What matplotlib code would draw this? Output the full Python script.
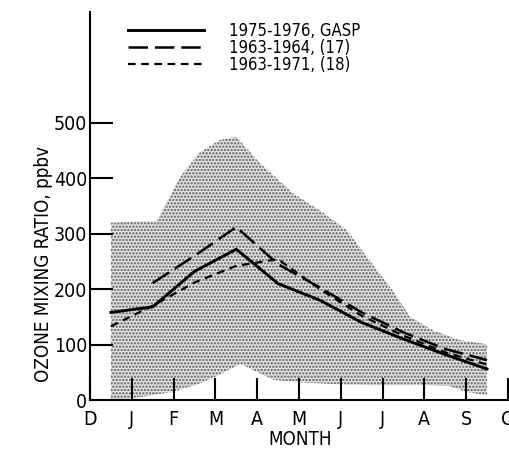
import matplotlib
matplotlib.use("Agg")
import matplotlib.pyplot as plt

plt.rcParams['font.family'] = ['DejaVu Sans']
plt.rcParams['font.stretch'] = 'condensed'
plt.rcParams['lines.scale_dashes'] = False
plt.rcParams['hatch.linewidth'] = 1.1

# month axis: D=0, J=1, ... O=10 ; data sit at mid-months
month_labels = ['D', 'J', 'F', 'M', 'A', 'M', 'J', 'J', 'A', 'S', 'O']
half_months = [0.5, 1.5, 2.5, 3.5, 4.5, 5.5, 6.5, 7.5, 8.5, 9.5]

gasp_7576 = [158, 168, 232, 272, 210, 180, 140, 110, 82, 56]
ref17_6364 = [None, 211, 260, 312, 245, 203, 158, 122, 92, 72]
ref18_6371 = [133, 170, 212, 242, 254, 200, 152, 116, 86, 64]

# range of GASP observations (shaded envelope)
env_up_month = [0.5, 1.0, 1.6, 2.15, 2.6, 3.1, 3.5, 4.07, 4.86, 5.5, 6.15, 6.7, 7.25, 7.66, 8.2, 8.85, 9.4, 9.5]
env_up_val = [320, 322, 323, 402, 445, 469, 475, 427, 373, 342, 306, 251, 197, 150, 126, 108, 102, 100]
env_lo_month = [0.5, 1.2, 2.0, 2.6, 3.0, 3.6, 4.1, 4.4, 5.0, 6.0, 7.0, 8.0, 8.6, 9.0, 9.5]
env_lo_val = [0, 5, 15, 29, 42, 65, 47, 36, 32, 28, 27, 27, 25, 15, 8]

fig = plt.figure(figsize=(5.10, 4.51), dpi=100)
ax = fig.add_axes([90 / 510, 51 / 451, 420 / 510, 388 / 451])

poly_x = env_up_month + env_lo_month[::-1]
poly_y = env_up_val + env_lo_val[::-1]
ax.fill(poly_x, poly_y, facecolor='#e2e2e2', edgecolor='#5a5a5a',
        hatch='.....', linewidth=0, zorder=1)

m17 = [m for m, v in zip(half_months, ref17_6364) if v is not None]
v17 = [v for v in ref17_6364 if v is not None]

ax.plot(half_months, gasp_7576, color='black', lw=2.1, solid_joinstyle='miter',
        label='1975-1976, GASP', zorder=3)
ax.plot(m17, v17, color='black', lw=1.8, dashes=(14, 5),
        label='1963-1964, (17)', zorder=3)
ax.plot(half_months, ref18_6371, color='black', lw=1.6, dashes=(5.5, 4),
        label='1963-1971, (18)', zorder=3)

ax.set_xlim(0, 10.05)
ax.set_ylim(0, 700)
ax.set_xticks(range(len(month_labels)))
ax.set_xticklabels(month_labels)
ax.set_yticks([0, 100, 200, 300, 400, 500])

for side in ['top', 'right']:
    ax.spines[side].set_visible(False)
for side in ['left', 'bottom']:
    ax.spines[side].set_linewidth(1.5)

ax.tick_params(axis='x', direction='in', length=16, width=1.5, pad=7, labelsize=14)
ax.tick_params(axis='y', direction='in', length=16.5, width=1.5, pad=2, labelsize=14)

ax.set_xlabel('MONTH', fontsize=13.5, labelpad=1)
ax.set_ylabel('OZONE MIXING RATIO, ppbv', fontsize=13.5)
ax.yaxis.set_label_coords(-0.088, 0.35)

ax.legend(loc='upper left', bbox_to_anchor=(0.09, 0.975), frameon=False,
          fontsize=12, handlelength=4.6, handletextpad=1.5,
          labelspacing=-0.05, borderpad=0, borderaxespad=0)

fig.savefig('out.png', dpi=100)
